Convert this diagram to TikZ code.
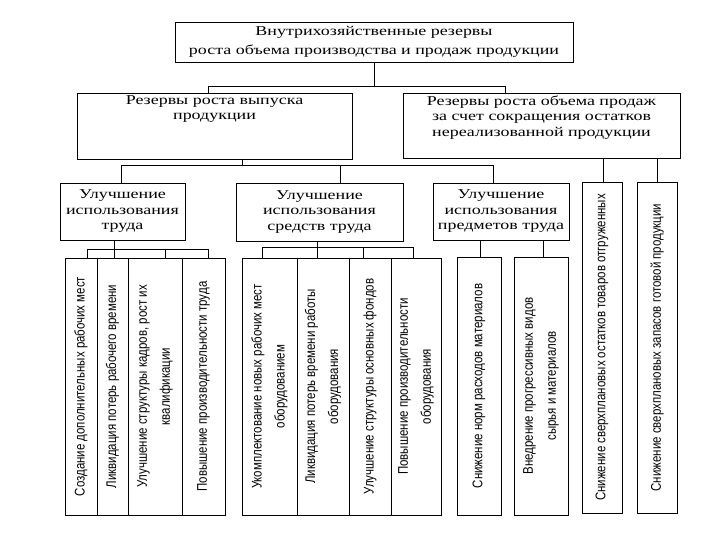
\documentclass[tikz,border=0pt]{standalone}
\usepackage{fontspec}
\usetikzlibrary{fit}
\setmainfont{Liberation Serif}
\newfontfamily\hdrfont[FakeStretch=1.33]{Liberation Serif}
\newfontfamily\leaffont[FakeStretch=0.82]{Liberation Sans}
\begin{document}
\begin{tikzpicture}[x=1pt,y=-1pt,
  box/.style={draw, line width=0.8pt, inner sep=0pt},
  hdr/.style={font=\hdrfont\fontsize{13.5}{15.5}\selectfont, align=center, inner sep=0pt},
  leaf/.style={font=\leaffont\fontsize{14}{23}\selectfont, align=center, rotate=90, inner sep=0pt},
  conn/.style={line width=0.8pt}]
\useasboundingbox[fill=white] (0,0) rectangle (720,540);

% top
\node[box, fit={(175,22) (573,62)}] (top) {};
\node[hdr, font=\hdrfont\fontsize{13.5}{18.5}\selectfont] (topt) at (top.center) {Внутрихозяйственные резервы\\роста объема производства и продаж продукции};

% middle level
\node[box, fit={(77,93) (352,159)}] (mL) {};
\node[hdr, font=\hdrfont\fontsize{13.5}{14.5}\selectfont, anchor=north] (mLt) at ([yshift=-3pt]mL.north) {Резервы роста выпуска\\продукции};
\node[box, fit={(403,93) (680,158)}] (mR) {};
\node[hdr, anchor=north] (mRt) at ([yshift=-3pt]mR.north) {Резервы роста объема продаж\\за счет сокращения остатков\\нереализованной продукции};

% third level
\node[box, fit={(60,183) (185,240)}] (u1) {};
\node[hdr] (u1t) at (u1.center) {Улучшение\\использования\\труда};
\node[box, fit={(236,183) (403,241)}] (u2) {};
\node[hdr] (u2t) at (u2.center) {Улучшение\\использования\\средств труда};
\node[box, fit={(433,183) (569,240)}] (u3) {};
\node[hdr] (u3t) at (u3.center) {Улучшение\\использования\\предметов труда};

% tall boxes
\node[box, fit={(582,182) (622,513)}] (t1) {};
\node[leaf] (t1t) at (t1.center) {Снижение сверхплановых остатков товаров отгруженных};
\node[box, fit={(637,182) (677,513)}] (t2) {};
\node[leaf] (t2t) at (t2.center) {Снижение сверхплановых запасов готовой продукции};

% leaves group 1
\node[box, fit={(65,258) (97,515)}] (a1) {};
\node[leaf] (a1t) at (a1.center) {Создание дополнительных рабочих мест};
\node[box, fit={(97,258) (128,515)}] (a2) {};
\node[leaf] (a2t) at (a2.center) {Ликвидация потерь рабочего времени};
\node[box, fit={(128,258) (182,515)}] (a3) {};
\node[leaf] (a3t) at (a3.center) {Улучшение структуры кадров, рост их\\квалификации};
\node[box, fit={(182,258) (225,515)}] (a4) {};
\node[leaf] (a4t) at (a4.center) {Повышение производительности труда};

% leaves group 2
\node[box, fit={(242,258) (297,515)}] (b1) {};
\node[leaf] (b1t) at (b1.center) {Укомплектование новых рабочих мест\\оборудованием};
\node[box, fit={(297,258) (349,515)}] (b2) {};
\node[leaf] (b2t) at (b2.center) {Ликвидация потерь времени работы\\оборудования};
\node[box, fit={(349,258) (391,515)}] (b3) {};
\node[leaf] (b3t) at (b3.center) {Улучшение структуры основных фондов};
\node[box, fit={(391,258) (441,515)}] (b4) {};
\node[leaf] (b4t) at (b4.center) {Повышение производительности\\оборудования};

% leaves group 3
\node[box, fit={(457,257) (501,515)}] (c1) {};
\node[leaf] (c1t) at (c1.center) {Снижение норм расходов материалов};
\node[box, fit={(514,257) (568,515)}] (c2) {};
\node[leaf] (c2t) at (c2.center) {Внедрение прогрессивных видов\\сырья и материалов};

% connectors top -> middle
\coordinate (h0l) at (208,86);
\coordinate (h0r) at (505,86);
\draw[conn] (top.south) -- (top.south |- h0l);
\draw[conn] (h0l) -- (h0r);
\draw[conn] (h0l) -- (h0l |- mL.north);
\draw[conn] (h0r) -- (h0r |- mR.north);

% mL -> third level
\coordinate (h1s) at (242,165);
\coordinate (h1l) at (121,165);
\coordinate (h1m) at (340,165);
\coordinate (h1r) at (493,165);
\draw[conn] (h1s |- mL.south) -- (h1s);
\draw[conn] (h1l) -- (h1r);
\draw[conn] (h1l) -- (h1l |- u1.north);
\draw[conn] (h1m) -- (h1m |- u2.north);
\draw[conn] (h1r) -- (h1r |- u3.north);

% mR -> tall boxes
\coordinate (r1) at (603,170);
\coordinate (r2) at (657,170);
\draw[conn] (r1 |- mR.south) -- (r1 |- t1.north);
\draw[conn] (r2 |- mR.south) -- (r2 |- t2.north);

% u1 -> leaves
\coordinate (g1s) at (114,249);
\coordinate (g1l) at (87,249);
\coordinate (g1c) at (165,249);
\coordinate (g1r) at (208,249);
\draw[conn] (g1s |- u1.south) -- (g1s);
\draw[conn] (g1l) -- (g1r);
\draw[conn] (g1l) -- (g1l |- a1.north);
\draw[conn] (g1s) -- (g1s |- a2.north);
\draw[conn] (g1c) -- (g1c |- a3.north);
\draw[conn] (g1r) -- (g1r |- a4.north);

% u2 -> leaves
\coordinate (g2l) at (262,247);
\coordinate (g2s) at (317,247);
\coordinate (g2c) at (363,247);
\coordinate (g2r) at (413,247);
\draw[conn] (g2s |- u2.south) -- (g2s);
\draw[conn] (g2l) -- (g2r);
\draw[conn] (g2l) -- (g2l |- b1.north);
\draw[conn] (g2s) -- (g2s |- b2.north);
\draw[conn] (g2c) -- (g2c |- b3.north);
\draw[conn] (g2r) -- (g2r |- b4.north);

% u3 -> leaves
\coordinate (g3a) at (480,250);
\coordinate (g3b) at (543,250);
\draw[conn] (g3a |- u3.south) -- (g3a |- c1.north);
\draw[conn] (g3b |- u3.south) -- (g3b |- c2.north);
\end{tikzpicture}
\end{document}
